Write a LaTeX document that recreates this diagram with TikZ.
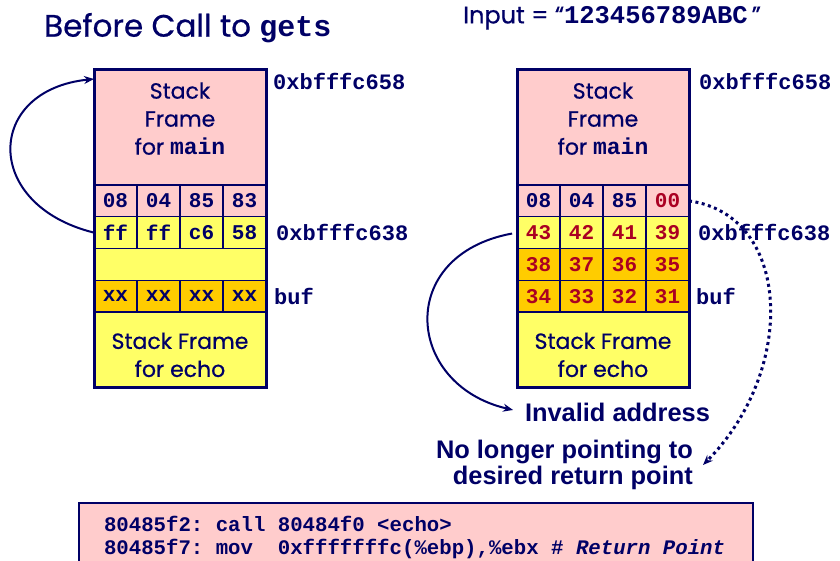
\documentclass[tikz,border=0pt]{standalone}
\usepackage{fontspec}
\setmainfont{Poppins}[RawFeature={embolden=0.6}]
\setmonofont{Liberation Mono}
\newfontfamily\notefont{Liberation Sans}
\usetikzlibrary{arrows.meta,positioning}
\definecolor{navy}{RGB}{0,0,102}
\definecolor{darkred}{RGB}{170,0,34}
\definecolor{pinkfill}{RGB}{255,204,204}
\definecolor{yellowfill}{RGB}{255,255,102}
\definecolor{orangefill}{RGB}{255,204,0}
\newcommand{\gap}{\phantom{0}}

\begin{document}
\begin{tikzpicture}[x=1pt, y=-1pt, text=navy,
  cell/.style={draw=navy, line width=1.5pt, minimum width=43pt, minimum height=31.75pt, inner sep=0pt, outer sep=0pt,
    font=\fontsize{21}{24}\selectfont\ttfamily\bfseries},
  wide/.style={draw=navy, line width=1.5pt, minimum width=172pt, inner sep=0pt, outer sep=0pt, align=center,
    font=\fontsize{22}{28}\selectfont},
  border/.style={draw=navy, line width=3pt},
  addr/.style={font=\fontsize{22}{26}\selectfont\ttfamily\bfseries, inner sep=3pt},
  note/.style={font=\fontsize{25.4}{26}\selectfont\notefont\bfseries, inner sep=3pt},
  a/.style={draw=navy, line width=2pt, -{Stealth[length=10pt, width=8pt]}}]
  \useasboundingbox (0,0) rectangle (840,561);
  \clip (0,0) rectangle (840,561);

  % headings
  \node[anchor=west, inner sep=2pt, font=\fontsize{31}{34}\selectfont] (title) at (42,28)
    {Before Call to {\fontsize{30}{34}\selectfont\ttfamily\bfseries gets}};
  \node[anchor=west, inner sep=2pt, font=\fontsize{24}{28}\selectfont] (input) at (461,18)
    {Input = “{\fontsize{25.5}{28}\selectfont\ttfamily\bfseries 123456789ABC}\,”};

  % stack before gets
  \node[wide, fill=pinkfill, minimum height=115pt, text depth=18pt] (lmain) at (180,127.5)
    {Stack\\Frame\\for {\fontsize{23}{28}\selectfont\ttfamily\bfseries main}};
  \node[cell, fill=pinkfill, below right=0pt and 0pt of lmain.south west] (l11) {08};
  \node[cell, fill=pinkfill, right=0pt of l11] (l12) {04};
  \node[cell, fill=pinkfill, right=0pt of l12] (l13) {85};
  \node[cell, fill=pinkfill, right=0pt of l13] (l14) {83};
  \node[cell, fill=yellowfill, below=0pt of l11] (l21) {ff};
  \node[cell, fill=yellowfill, right=0pt of l21] (l22) {ff};
  \node[cell, fill=yellowfill, right=0pt of l22] (l23) {c6};
  \node[cell, fill=yellowfill, right=0pt of l23] (l24) {58};
  \node[wide, fill=yellowfill, minimum height=31.75pt, below right=0pt and 0pt of l21.south west] (lblank) {};
  \node[cell, fill=orangefill, below right=0pt and 0pt of lblank.south west] (l41) {xx};
  \node[cell, fill=orangefill, right=0pt of l41] (l42) {xx};
  \node[cell, fill=orangefill, right=0pt of l42] (l43) {xx};
  \node[cell, fill=orangefill, right=0pt of l43] (l44) {xx};
  \node[wide, fill=yellowfill, minimum height=75pt, below right=0pt and 0pt of l41.south west] (lecho)
    {\rule{0pt}{27pt}Stack Frame\\for echo};
  \draw[border] (lmain.north west) rectangle (lecho.south east);
  \node[addr, anchor=north west] (lhi) at ([xshift=4pt]lmain.north east) {0xbfffc658};
  \node[addr, right=7pt of l24] (llo) {0xbfffc638};
  \node[addr, right=5pt of l44] (lbuf) {buf};

  % stack after gets
  \node[wide, fill=pinkfill, minimum height=115pt, text depth=18pt] (rmain) at (603,127.5)
    {Stack\\Frame\\for {\fontsize{23}{28}\selectfont\ttfamily\bfseries main}};
  \node[cell, fill=pinkfill, below right=0pt and 0pt of rmain.south west] (r11) {08};
  \node[cell, fill=pinkfill, right=0pt of r11] (r12) {04};
  \node[cell, fill=pinkfill, right=0pt of r12] (r13) {85};
  \node[cell, fill=pinkfill, text=darkred, right=0pt of r13] (r14) {00};
  \node[cell, fill=yellowfill, text=darkred, below=0pt of r11] (r21) {43};
  \node[cell, fill=yellowfill, text=darkred, right=0pt of r21] (r22) {42};
  \node[cell, fill=yellowfill, text=darkred, right=0pt of r22] (r23) {41};
  \node[cell, fill=yellowfill, text=darkred, right=0pt of r23] (r24) {39};
  \node[cell, fill=orangefill, text=darkred, below=0pt of r21] (r31) {38};
  \node[cell, fill=orangefill, text=darkred, right=0pt of r31] (r32) {37};
  \node[cell, fill=orangefill, text=darkred, right=0pt of r32] (r33) {36};
  \node[cell, fill=orangefill, text=darkred, right=0pt of r33] (r34) {35};
  \node[cell, fill=orangefill, text=darkred, below=0pt of r31] (r41) {34};
  \node[cell, fill=orangefill, text=darkred, right=0pt of r41] (r42) {33};
  \node[cell, fill=orangefill, text=darkred, right=0pt of r42] (r43) {32};
  \node[cell, fill=orangefill, text=darkred, right=0pt of r43] (r44) {31};
  \node[wide, fill=yellowfill, minimum height=75pt, below right=0pt and 0pt of r41.south west] (recho)
    {\rule{0pt}{27pt}Stack Frame\\for echo};
  \draw[border] (rmain.north west) rectangle (recho.south east);
  \node[addr, anchor=north west] (rhi) at ([xshift=7pt]rmain.north east) {0xbfffc658};
  \node[addr, right=6pt of r24] (rlo) {0xbfffc638};
  \node[addr, right=4pt of r44] (rbuf) {buf};

  % notes
  \node[note] (inv) at (617.5,412) {Invalid address};
  \node[note, align=right, anchor=east] (nolonger) at (696,465) {No longer pointing to\\desired return point};

  % code
  \node[draw=navy, line width=2pt, fill=pinkfill, anchor=north west, inner xsep=25pt, inner ysep=13pt,
    text width=624pt, align=left, text depth=50pt, font=\fontsize{20.7}{23}\selectfont\ttfamily\bfseries] (code) at (78,502)
    {80485f2:\gap call\gap 80484f0\gap <echo>\\
     80485f7:\gap mov\gap\gap 0xfffffffc(\%ebp),\%ebx\gap\#\gap\textit{Return\gap Point}};

  % arrows
  \draw[a] (l21.west) .. controls (-18,205) and (-15,90) .. ([yshift=-9pt]lmain.north west);
  \draw[a, shorten <=5pt, shorten >=9pt] (r21.west) .. controls (395,255) and (405,385) .. (inv.west);
  \draw[a, line width=3pt, dash pattern=on 3pt off 3.5pt] (r14.east) .. controls (792,215) and (797,370) .. ([xshift=7pt]nolonger.east);
\end{tikzpicture}
\end{document}
